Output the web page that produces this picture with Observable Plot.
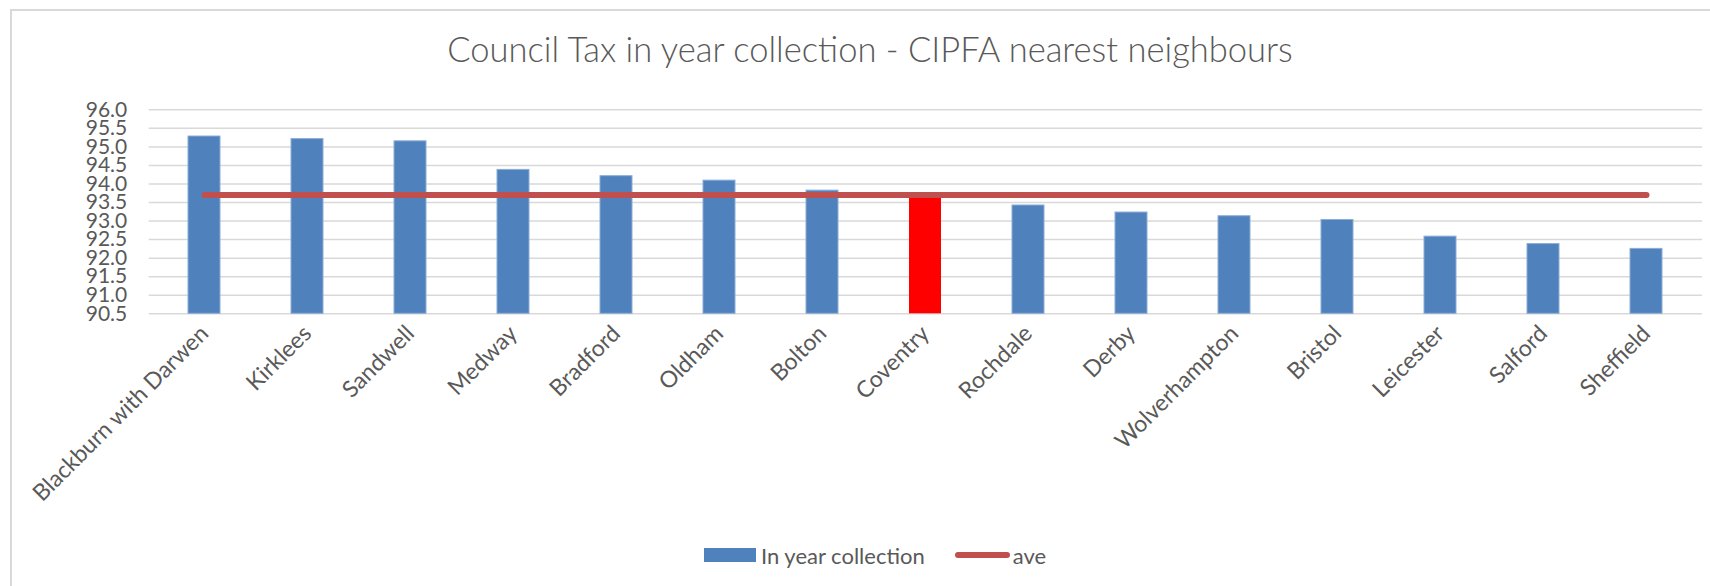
<!DOCTYPE html>
<html><head><meta charset="utf-8">
<script src="https://cdn.jsdelivr.net/npm/d3@7"></script>
<script src="https://cdn.jsdelivr.net/npm/@observablehq/plot@0.6"></script>
<style>
html,body{margin:0;padding:0;background:#fff;}
body{width:1710px;height:586px;overflow:hidden;position:relative;font-family:Lato,"Open Sans",sans-serif;color:#595959;}
#frame{position:absolute;left:10px;top:9px;width:1740px;height:620px;border:2px solid #d9d9d9;box-sizing:border-box;}
#title{position:absolute;left:0;top:0;width:1740px;text-align:center;font-weight:300;font-size:34px;line-height:1.2;padding-top:28px;white-space:nowrap;}
#title span{display:inline-block;}
#chart{position:absolute;left:0;top:80px;}
#legend{position:absolute;left:704px;top:540px;display:flex;align-items:center;height:30px;font-size:22px;white-space:nowrap;}
.sw-bar{width:52px;height:14px;background:#4f81bd;margin-right:5px;}
.sw-line{width:55px;height:6px;border-radius:3px;background:#c0504d;margin-left:30px;margin-right:3px;}
</style></head>
<body>
<div id="frame"></div>
<div id="title"><span id="tt">Council Tax in year collection - CIPFA nearest neighbours</span></div>
<div id="chart"></div>
<div id="legend"><div class="sw-bar"></div><span>In year collection</span><div class="sw-line"></div><span>ave</span></div>
<script>
const names = ["Blackburn with Darwen","Kirklees","Sandwell","Medway","Bradford","Oldham","Bolton","Coventry","Rochdale","Derby","Wolverhampton","Bristol","Leicester","Salford","Sheffield"];
const inYear = [95.28, 95.21, 95.15, 94.38, 94.21, 94.09, 93.82, 93.65, 93.42, 93.23, 93.13, 93.03, 92.58, 92.38, 92.25];
const ave = [93.7, 93.7, 93.7, 93.7, 93.7, 93.7, 93.7, 93.7, 93.7, 93.7, 93.7, 93.7, 93.7, 93.7, 93.7];
const yTicks = [90.5, 91.0, 91.5, 92.0, 92.5, 93.0, 93.5, 94.0, 94.5, 95.0, 95.5, 96.0];
const highlight = "Coventry";

const yMin = yTicks[0], yMax = yTicks[yTicks.length - 1];
const data = names.map((name, i) => ({name, value: inYear[i], ave: ave[i]}));

const chart = Plot.plot({
  width: 1710, height: 450,
  marginTop: 29.3, marginBottom: 216.7, marginLeft: 148.7, marginRight: 8,
  style: {fontFamily: "Lato, 'Open Sans', sans-serif", fontSize: "21px", color: "#595959", background: "transparent", overflow: "visible"},
  x: {domain: names, paddingInner: 0.69, paddingOuter: 0.345, label: null},
  y: {domain: [yMin, yMax], label: null},
  color: {type: "identity"},
  marks: [
    Plot.gridY(yTicks, {stroke: "#d9d9d9", strokeOpacity: 1, strokeWidth: 1.5}),
    Plot.barY(data, {x: "name", y1: yMin, y2: "value",
      fill: d => d.name === highlight ? "#ff0000" : "#4f81bd",
      stroke: d => d.name === highlight ? "none" : "#8cacd6", strokeWidth: 1}),
    Plot.lineY(data, {x: "name", y: "ave", stroke: "#c0504d", strokeWidth: 6, strokeLinecap: "round"}),
    Plot.axisY(yTicks, {tickSize: 0, tickPadding: 22, tickFormat: d3.format(".1f"), fill: "#595959", label: null}),
    Plot.axisX({tickSize: 0, tickPadding: 16, tickRotate: -45, fill: "#595959", fontSize: 23, label: null})
  ]
});
document.getElementById("chart").appendChild(chart);

// fit title to the reference width
const tt = document.getElementById("tt");
const w = tt.getBoundingClientRect().width;
const target = 846;
const fs = 34 * target / w;
document.getElementById("title").style.fontSize = fs + "px";
document.getElementById("title").style.paddingTop = (62.5 - fs * 0.987) + "px";
</script>
</body></html>
